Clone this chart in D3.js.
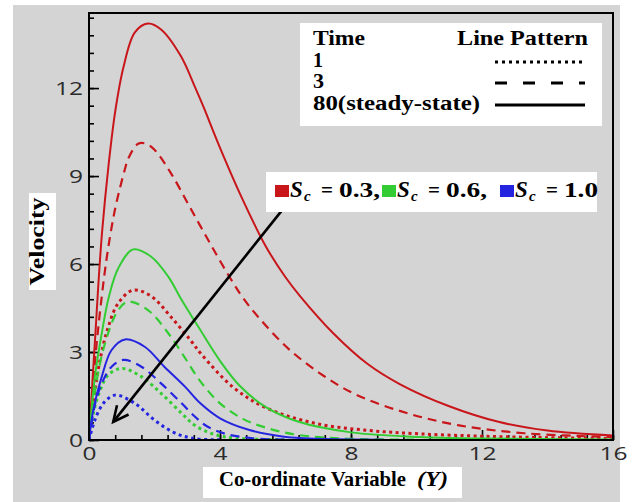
<!DOCTYPE html>
<html>
<head>
<meta charset="utf-8">
<script src="https://cdn.jsdelivr.net/npm/d3@7"></script>
<style>
  body { margin: 0; background: #fff; }
  .tick text { font-family: "Open Sans", sans-serif; font-size: 19px; fill: #2a2a2a; }
  .serif { font-family: "Liberation Serif", "Times New Roman", serif; font-weight: bold; fill: #000; }
</style>
</head>
<body>
<div id="chart"></div>
<script>
var svgWidth = 632;
var svgHeight = 502;

// data: [Y, velocity]
var sc03_t80 = [[0,0],[0.1,1.9],[0.2,3.7],[0.28,5.2],[0.4,7.1],[0.6,9.4],[0.8,11.2],[1.05,12.7],[1.4,13.9],[1.8,14.2],[2.2,14.0],[2.8,13.1],[3.25,12.0],[3.5,11.35],[3.95,10.1],[4.65,8.3],[5.4,6.6],[6.0,5.55],[6.45,4.9],[7.45,3.65],[8.5,2.6],[9.5,1.9],[11.0,1.15],[12.5,0.62],[14.0,0.32],[16.0,0.15]];
var sc03_t3 = [[0,0],[0.2,2.9],[0.39,4.9],[0.54,6.2],[0.69,7.25],[0.84,8.1],[1.1,9.25],[1.2,9.6],[1.5,10.1],[1.75,10.1],[2.0,9.9],[2.5,9.1],[3.1,7.9],[3.75,6.6],[4.35,5.45],[4.7,4.85],[5.2,4.15],[6.1,3.1],[7.15,2.2],[8.15,1.55],[9.7,0.92],[11.3,0.5],[13.3,0.23],[16.0,0.1]];
var sc03_t1 = [[0,0],[0.15,1.4],[0.34,2.75],[0.59,3.86],[0.89,4.66],[1.35,5.11],[1.9,4.9],[2.5,4.2],[3.1,3.4],[3.45,2.9],[4.4,1.8],[5.4,1.1],[6.9,0.57],[8.5,0.33],[10.1,0.21],[12.0,0.13],[14.0,0.08],[16.0,0.05]];
var sc06_t80 = [[0,0],[0.18,2.16],[0.39,3.64],[0.6,4.85],[0.89,5.85],[1.35,6.5],[1.9,6.25],[2.42,5.57],[2.83,4.77],[3.23,4.05],[3.4,3.75],[4.0,2.7],[4.6,1.85],[5.4,1.12],[6.4,0.62],[8.0,0.26],[10.1,0.1],[12.0,0.05],[16.0,0.02]];
var sc06_t3 = [[0,0],[0.2,1.8],[0.49,3.3],[0.89,4.43],[1.2,4.72],[1.8,4.43],[2.42,3.64],[2.93,2.8],[3.4,2.0],[4.0,1.25],[4.7,0.72],[5.4,0.42],[6.4,0.17],[8.0,0.04],[10.0,0.01]];
var sc06_t1 = [[0,0],[0.15,1.0],[0.34,1.7],[0.59,2.22],[1.0,2.44],[1.6,2.16],[2.2,1.59],[2.83,0.91],[3.23,0.5],[3.8,0.2],[4.5,0.06],[6.0,0.01]];
var sc10_t80 = [[0,0],[0.13,1.02],[0.39,2.16],[0.69,3.07],[1.1,3.43],[1.7,3.18],[2.3,2.5],[2.93,1.82],[3.4,1.25],[4.0,0.74],[4.9,0.34],[5.9,0.12],[7.0,0.04],[9.0,0.01]];
var sc10_t3 = [[0,0],[0.2,1.3],[0.44,2.05],[0.69,2.5],[1.05,2.73],[1.6,2.5],[2.2,1.93],[2.83,1.25],[3.23,0.8],[3.6,0.47],[4.2,0.2],[5.0,0.06],[6.0,0.01]];
var sc10_t1 = [[0,0],[0.18,0.68],[0.44,1.25],[0.79,1.53],[1.4,1.25],[2.0,0.68],[2.6,0.25],[3.2,0.05],[4.0,0.01]];

var scValues = ["0.3", "0.6", "1.0"];
var scColors = ["#c8161b", "#33cc33", "#2525e0"];
var timeLabels = ["1", "3", "80(steady-state)"];
var xTicks = [0, 4, 8, 12, 16];
var yTicks = [0, 3, 6, 9, 12];

var series = [
  { data: sc03_t80, sc: 0, t: 2 }, { data: sc03_t3, sc: 0, t: 1 }, { data: sc03_t1, sc: 0, t: 0 },
  { data: sc06_t80, sc: 1, t: 2 }, { data: sc06_t3, sc: 1, t: 1 }, { data: sc06_t1, sc: 1, t: 0 },
  { data: sc10_t80, sc: 2, t: 2 }, { data: sc10_t3, sc: 2, t: 1 }, { data: sc10_t1, sc: 2, t: 0 }
];

var plot = { left: 89, right: 613, top: 13, bottom: 440 };

var svg = d3.select("#chart").append("svg")
  .attr("width", svgWidth)
  .attr("height", svgHeight);

// grey panel
svg.append("rect")
  .attr("x", 13).attr("y", 5)
  .attr("width", 607).attr("height", 497)
  .attr("fill", "#d4d4d4");

var x = d3.scaleLinear().domain([0, 16]).range([plot.left, plot.right]);
var y = d3.scaleLinear().domain([0, 14.56]).range([plot.bottom, plot.top]);

function fit(sel, len) {
  sel.attr("textLength", len).attr("lengthAdjust", "spacingAndGlyphs");
}

// minor ticks
svg.append("g")
  .attr("transform", `translate(0, ${plot.bottom})`)
  .call(d3.axisBottom(x).tickValues(d3.range(0, 16.01, 0.8)).tickSize(-5).tickFormat(""))
  .call(g => g.select(".domain").remove());
svg.append("g")
  .attr("transform", `translate(${plot.left}, 0)`)
  .call(d3.axisLeft(y).tickValues(d3.range(0, 14.5, 0.6)).tickSize(-5).tickFormat(""))
  .call(g => g.select(".domain").remove());

// major ticks + labels
var xAxis = svg.append("g")
  .attr("transform", `translate(0, ${plot.bottom})`)
  .call(d3.axisBottom(x).tickValues(xTicks).tickSize(-10).tickPadding(7).tickFormat(d3.format("d")))
  .call(g => g.select(".domain").remove());
xAxis.selectAll(".tick text").each(function (d) {
  fit(d3.select(this), String(d).length * 14);
});

var yAxis = svg.append("g")
  .attr("transform", `translate(${plot.left}, 0)`)
  .call(d3.axisLeft(y).tickValues(yTicks).tickSize(-10).tickPadding(6).tickFormat(d3.format("d")))
  .call(g => g.select(".domain").remove());
yAxis.selectAll(".tick text").each(function (d) {
  fit(d3.select(this), String(d).length * 14);
});
svg.selectAll(".tick line").attr("stroke", "#000").attr("stroke-width", 1.6);

// curves
svg.append("clipPath").attr("id", "clip")
  .append("rect")
  .attr("x", plot.left).attr("y", plot.top)
  .attr("width", plot.right - plot.left).attr("height", plot.bottom - plot.top);

var line = d3.line()
  .x(d => x(d[0]))
  .y(d => y(d[1]))
  .curve(d3.curveCatmullRom.alpha(0.5));

var dashFor = ["3 3.5", "9 6", null];
var widthFor = [3, 2.2, 2];

svg.append("g").attr("clip-path", "url(#clip)")
  .selectAll("path")
  .data(series)
  .enter()
  .append("path")
  .attr("d", d => line(d.data))
  .attr("fill", "none")
  .attr("stroke", d => scColors[d.sc])
  .attr("stroke-width", d => widthFor[d.t])
  .attr("stroke-dasharray", d => dashFor[d.t]);

// arrow
var arrowFrom = [6.3, 8.4];
var arrowTo = [0.74, 0.62];
var ax0 = x(arrowFrom[0]), ay0 = y(arrowFrom[1]);
var ax1 = x(arrowTo[0]), ay1 = y(arrowTo[1]);
var ang = Math.atan2(ay0 - ay1, ax0 - ax1);
var headLen = 17;
svg.append("line")
  .attr("x1", ax0).attr("y1", ay0).attr("x2", ax1).attr("y2", ay1)
  .attr("stroke", "#000").attr("stroke-width", 2.6);
svg.append("path")
  .attr("d", `M${ax1 + headLen * Math.cos(ang - 0.45)},${ay1 + headLen * Math.sin(ang - 0.45)} L${ax1},${ay1} L${ax1 + headLen * Math.cos(ang + 0.45)},${ay1 + headLen * Math.sin(ang + 0.45)}`)
  .attr("fill", "none").attr("stroke", "#000").attr("stroke-width", 2.6);

// frame
svg.append("rect")
  .attr("x", plot.left).attr("y", plot.top)
  .attr("width", plot.right - plot.left).attr("height", plot.bottom - plot.top)
  .attr("fill", "none").attr("stroke", "#000").attr("stroke-width", 2);

// line pattern legend
var leg = svg.append("g");
leg.append("rect").attr("x", 300).attr("y", 23).attr("width", 302).attr("height", 103).attr("fill", "#fff");
fit(leg.append("text").attr("class", "serif").attr("x", 313).attr("y", 45).attr("font-size", 20).text("Time"), 52);
fit(leg.append("text").attr("class", "serif").attr("x", 457).attr("y", 45).attr("font-size", 20).text("Line Pattern"), 131);
var rowY = [67, 88, 110];
var legLens = [10, 11, 167];
var legDash = ["3 4", "12 16", null];
timeLabels.forEach(function (t, i) {
  fit(leg.append("text").attr("class", "serif").attr("x", 313).attr("y", rowY[i]).attr("font-size", 20).text(t), legLens[i]);
  leg.append("line")
    .attr("x1", 495).attr("x2", 585)
    .attr("y1", rowY[i] - 5).attr("y2", rowY[i] - 5)
    .attr("stroke", "#000").attr("stroke-width", 3)
    .attr("stroke-dasharray", legDash[i]);
});

// Sc legend
var scBox = svg.append("g");
scBox.append("rect").attr("x", 266).attr("y", 172).attr("width", 331).attr("height", 40).attr("fill", "#fff");
var scX = [275, 382, 500];
scValues.forEach(function (v, i) {
  var g = scBox.append("g").attr("transform", `translate(${scX[i]}, 0)`);
  g.append("rect").attr("x", 0).attr("y", 185).attr("width", 14).attr("height", 12).attr("fill", scColors[i]);
  g.append("text").attr("class", "serif").attr("x", 15).attr("y", 197)
    .attr("font-size", 23).attr("font-style", "italic").text("S");
  g.append("text").attr("class", "serif").attr("x", 29).attr("y", 201)
    .attr("font-size", 15).attr("font-style", "italic").text("c");
  g.append("text").attr("class", "serif").attr("x", 46).attr("y", 197)
    .attr("font-size", 21).text("=");
  var val = g.append("text").attr("class", "serif").attr("x", 64).attr("y", 197)
    .attr("font-size", 21).text(i < 2 ? v + "," : v);
  fit(val, i < 2 ? 41 : 34);
});

// axis titles
svg.append("rect").attr("x", 29).attr("y", 193).attr("width", 27).attr("height", 97).attr("fill", "#fff");
fit(svg.append("text").attr("class", "serif")
  .attr("transform", "translate(44, 241.5) rotate(-90)")
  .attr("text-anchor", "middle")
  .attr("font-size", 21)
  .text("Velocity"), 88);

svg.append("rect").attr("x", 203).attr("y", 467).attr("width", 259).attr("height", 31).attr("fill", "#fff");
fit(svg.append("text").attr("class", "serif").attr("x", 219).attr("y", 486).attr("font-size", 20)
  .text("Co-ordinate Variable"), 187);
fit(svg.append("text").attr("class", "serif").attr("x", 417).attr("y", 486).attr("font-size", 20)
  .attr("font-style", "italic").text("(Y)"), 31);
</script>
</body>
</html>
